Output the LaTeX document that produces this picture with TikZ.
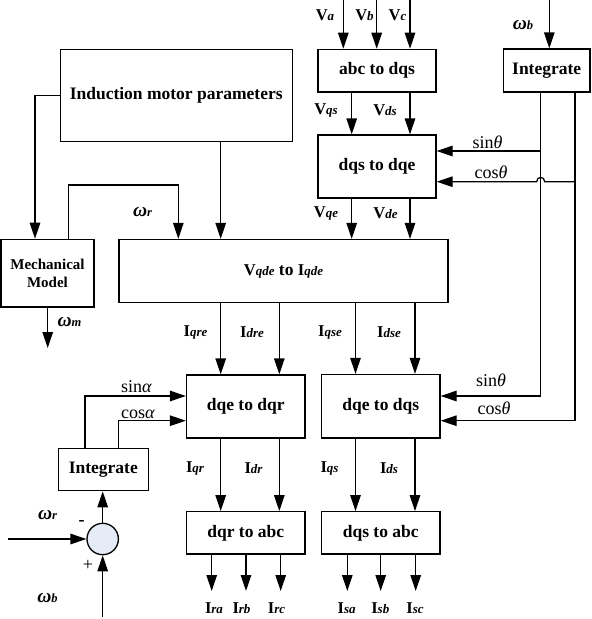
\documentclass[tikz,border=0pt]{standalone}
\usepackage{fontspec}
\setmainfont{Liberation Serif}
\usetikzlibrary{arrows.meta}
\newcommand\sig[2]{{\fontsize{16.5}{18}\selectfont\bfseries #1}{\fontsize{13}{14}\selectfont\bfseries\itshape #2}}
\newcommand\om[1]{{\fontsize{19.5}{20}\selectfont\bfseries\itshape ω}{\fontsize{12.5}{14}\selectfont\bfseries\itshape #1}}
\newcommand\trig[2]{{\fontsize{18}{20}\selectfont #1\textit{#2}}}
\definecolor{sumfill}{HTML}{E6ECF7}
\begin{document}
\begin{tikzpicture}[x=1pt,y=-1pt,line width=1.3pt,
  >={Triangle[length=16pt,width=10.5pt]},
  blk/.style={draw,rectangle,inner sep=0pt,font=\fontsize{17.5}{20}\selectfont\bfseries,align=center},
  lbl/.style={inner sep=0pt}]
\useasboundingbox (0,0) rectangle (592,619);
% blocks
\node[blk,minimum width=232pt,minimum height=92pt] (imp) at (176.2,95.5) {Induction motor parameters};
\node[blk,minimum width=118pt,minimum height=42.7pt] (abc) at (377,70.7) {abc to dqs};
\node[blk,minimum width=86.7pt,minimum height=43pt] (intT) at (546.7,70.5) {Integrate};
\node[blk,minimum width=118pt,minimum height=63pt] (dqsdqe) at (377,166.5) {dqs to dqe};
\node[blk,minimum width=329pt,minimum height=63.2pt] (vqde) at (283.5,271.1) {\sig{V}{qde} to \sig{I}{qde}};
\node[blk,minimum width=93pt,minimum height=67.7pt,font=\fontsize{15}{17.7}\selectfont\bfseries] (mech) at (47.5,273.2) {Mechanical\\Model};
\node[blk,minimum width=118.5pt,minimum height=63pt] (dqr) at (245.75,406.5) {dqe to dqr};
\node[blk,minimum width=118.5pt,minimum height=63.5pt] (dqs) at (380.75,406.25) {dqe to dqs};
\node[blk,minimum width=118.5pt,minimum height=42.3pt] (dqrabc) at (245.75,532.9) {dqr to abc};
\node[blk,minimum width=118.5pt,minimum height=42.3pt] (dqsabc) at (380.75,532.9) {dqs to abc};
\node[blk,minimum width=90pt,minimum height=42.4pt] (intL) at (103.3,469.5) {Integrate};
\node[draw,circle,fill=sumfill,minimum size=31.4pt,inner sep=0pt] (sum) at (102.7,539) {};
% helper coordinates
\coordinate (cVa) at (343.3,0);
\coordinate (cVb) at (376.7,0);
\coordinate (cVc) at (410,0);
\coordinate (cwb) at (549.3,0);
\coordinate (x1) at (220.7,0);
\coordinate (x2) at (279.3,0);
\coordinate (x3) at (351.7,0);
\coordinate (x4) at (410,0);
\coordinate (x5) at (355.5,0);
\coordinate (x6) at (415,0);
\coordinate (xs) at (540.7,0);
\coordinate (xc) at (575,0);
\coordinate (x35) at (35,0);
\coordinate (x68) at (68.3,0);
\coordinate (x178) at (178.3,0);
\coordinate (x47) at (47.7,0);
\coordinate (x85) at (85,0);
\coordinate (x118) at (118.3,0);
\coordinate (ysu) at (0,151);
\coordinate (ycu) at (0,181.7);
\coordinate (ysl) at (0,396);
\coordinate (ycl) at (0,420.7);
\coordinate (yfb) at (0,185);
\coordinate (wmend) at (47.7,348);
\coordinate (inL) at (8.3,539);
\coordinate (inB) at (102.7,617);
\coordinate (o1) at (211.7,591);
\coordinate (o2) at (246,591);
\coordinate (o3) at (280.7,591);
\coordinate (o4) at (347.3,591);
\coordinate (o5) at (380.7,591);
\coordinate (o6) at (415.7,591);
% connectors
\draw[->] (cVa) -- (abc.north -| cVa);
\draw[->] (cVb) -- (abc.north -| cVb);
\draw[->] (cVc) -- (abc.north -| cVc);
\draw[->] (cwb) -- (intT.north -| cwb);
\draw[->] (abc.south -| x3) -- (dqsdqe.north -| x3);
\draw[->] (abc.south -| x4) -- (dqsdqe.north -| x4);
\draw[->] (intT.south -| xs) -- (xs |- ysl) -- (dqs.east |- ysl);
\draw[->] (xs |- ysu) -- (dqsdqe.east |- ysu);
\draw[->] (intT.south -| xc) -- (xc |- ycl) -- (dqs.east |- ycl);
\draw[->] (xc |- ycu) -- (544.7,181.7) .. controls (544.7,176) and (536.7,176) .. (536.7,181.7) -- (dqsdqe.east |- ycu);
\draw[->] (dqsdqe.south -| x3) -- (vqde.north -| x3);
\draw[->] (dqsdqe.south -| x4) -- (vqde.north -| x4);
\draw[->] (imp.south -| x1) -- (vqde.north -| x1);
\draw[->] (imp.west) -| (mech.north -| x35);
\draw[->] (mech.north -| x68) -- (x68 |- yfb) -- (x178 |- yfb) -- (vqde.north -| x178);
\draw[->] (mech.south -| x47) -- (wmend);
\draw[->] (vqde.south -| x1) -- (dqr.north -| x1);
\draw[->] (vqde.south -| x2) -- (dqr.north -| x2);
\draw[->] (vqde.south -| x5) -- (dqs.north -| x5);
\draw[->] (vqde.south -| x6) -- (dqs.north -| x6);
\draw[->] (dqr.south -| x1) -- (dqrabc.north -| x1);
\draw[->] (dqr.south -| x2) -- (dqrabc.north -| x2);
\draw[->] (dqs.south -| x5) -- (dqsabc.north -| x5);
\draw[->] (dqs.south -| x6) -- (dqsabc.north -| x6);
\draw[->] (dqrabc.south -| o1) -- (o1);
\draw[->] (dqrabc.south -| o2) -- (o2);
\draw[->] (dqrabc.south -| o3) -- (o3);
\draw[->] (dqsabc.south -| o4) -- (o4);
\draw[->] (dqsabc.south -| o5) -- (o5);
\draw[->] (dqsabc.south -| o6) -- (o6);
\draw[->] (intL.north -| x85) |- (dqr.west |- ysl);
\draw[->] (intL.north -| x118) |- (dqr.west |- ycl);
\draw[->] (sum.north) -- (intL.south -| sum.north);
\draw[->] (inL) -- (sum.west);
\draw[->] (inB) -- (sum.south);
% labels
\node[lbl] (lVa) at (325,15) {\sig{V}{a}};
\node[lbl] (lVb) at (364.5,15) {\sig{V}{b}};
\node[lbl] (lVc) at (397.5,15) {\sig{V}{c}};
\node[lbl] (lwb) at (523,25) {\om{b}};
\node[lbl] (lVqs) at (326,110) {\sig{V}{qs}};
\node[lbl] (lVds) at (385,110) {\sig{V}{ds}};
\node[lbl] (lsu) at (487.5,142) {\trig{sin}{θ}};
\node[lbl] (lcu) at (491,172) {\trig{cos}{θ}};
\node[lbl] (lVqe) at (326,213) {\sig{V}{qe}};
\node[lbl] (lVde) at (385.5,213) {\sig{V}{de}};
\node[lbl] (lwr) at (142.5,212) {\om{r}};
\node[lbl] (lwm) at (69.5,322) {\om{m}};
\node[lbl] (lIqre) at (195.5,332) {\sig{I}{qre}};
\node[lbl] (lIdre) at (252,332) {\sig{I}{dre}};
\node[lbl] (lIqse) at (330,332) {\sig{I}{qse}};
\node[lbl] (lIdse) at (389,332) {\sig{I}{dse}};
\node[lbl] (lsa) at (136.5,387) {\trig{sin}{α}};
\node[lbl] (lca) at (138,414) {\trig{cos}{α}};
\node[lbl] (lsl) at (491,380) {\trig{sin}{θ}};
\node[lbl] (lcl) at (494,408.3) {\trig{cos}{θ}};
\node[lbl] (lIqr) at (195,468) {\sig{I}{qr}};
\node[lbl] (lIdr) at (253.5,468) {\sig{I}{dr}};
\node[lbl] (lIqs) at (329.5,468) {\sig{I}{qs}};
\node[lbl] (lIds) at (389,468) {\sig{I}{ds}};
\node[lbl] (lIra) at (214,608) {\sig{I}{ra}};
\node[lbl] (lIrb) at (241.5,608) {\sig{I}{rb}};
\node[lbl] (lIrc) at (276.5,608) {\sig{I}{rc}};
\node[lbl] (lIsa) at (346.7,608) {\sig{I}{sa}};
\node[lbl] (lIsb) at (380.3,608) {\sig{I}{sb}};
\node[lbl] (lIsc) at (415,608) {\sig{I}{sc}};
\node[lbl] (lwr2) at (47.5,515) {\om{r}};
\node[lbl] (lwb2) at (47.5,598) {\om{b}};
\node[lbl,font=\fontsize{18}{20}\selectfont\bfseries] (lminus) at (81.7,522.7) {-};
\node[lbl,font=\fontsize{18}{20}\selectfont] (lplus) at (88,565) {+};
\end{tikzpicture}
\end{document}
